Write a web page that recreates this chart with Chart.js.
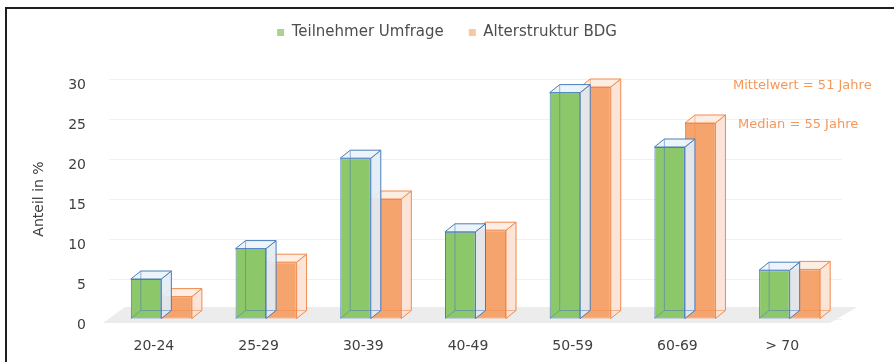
<!DOCTYPE html>
<html>
<head>
<meta charset="utf-8">
<script src="https://cdn.jsdelivr.net/npm/chart.js@4.4.1/dist/chart.umd.min.js"></script>
<style>
  html, body { margin: 0; padding: 0; background: #ffffff; }
  #wrap { width: 894px; height: 362px; position: relative; }
</style>
</head>
<body>
<div id="wrap"><canvas id="c" width="894" height="362"></canvas></div>
<script>
// ---- data ----
const categories = ['20-24', '25-29', '30-39', '40-49', '50-59', '60-69', '> 70'];
const teilnehmerUmfrage = [5.0, 8.8, 20.1, 10.9, 28.3, 21.5, 6.1];
const altersstrukturBDG = [2.8, 7.1, 15.0, 11.1, 29.0, 24.5, 6.2];
const seriesNames = ['Teilnehmer Umfrage', 'Alterstruktur BDG'];
const yTicks = [0, 5, 10, 15, 20, 25, 30];
const annotations = ['Mittelwert = 51 Jahre', 'Median = 55 Jahre'];
const yTitle = 'Anteil in %';

const FONT = 'DejaVu Sans';
const DX = 10, DY = -8;
const styles3d = [
  { side: 'rgba(226,236,246,0.9)', top: 'rgba(236,243,250,0.95)', edge: '#4a7ebb', back: 'rgba(74,126,187,0.55)' },
  { side: 'rgba(252,226,212,0.9)', top: 'rgba(253,236,226,0.95)', edge: '#ef8a4c', back: 'rgba(239,138,76,0.55)' }
];

const framePlugin = {
  id: 'frame',
  beforeDraw(chart) {
    const ctx = chart.ctx;
    ctx.save();
    ctx.fillStyle = '#ffffff';
    ctx.fillRect(0, 0, chart.width, chart.height);
    ctx.strokeStyle = '#1e1e1e';
    ctx.lineWidth = 2;
    ctx.beginPath();
    ctx.moveTo(6, chart.height);
    ctx.lineTo(6, 8);
    ctx.lineTo(chart.width, 8);
    ctx.stroke();
    ctx.restore();
  }
};

const floorPlugin = {
  id: 'floor',
  beforeDatasetsDraw(chart) {
    const { ctx, chartArea } = chart;
    const base = chart.scales.y.getPixelForValue(0);
    ctx.save();
    ctx.fillStyle = '#ececec';
    ctx.beginPath();
    ctx.moveTo(chartArea.left - 6, base + 4);
    ctx.lineTo(chartArea.right - 12, base + 4);
    ctx.lineTo(chartArea.right + 15, base - 12);
    ctx.lineTo(chartArea.left + 16, base - 12);
    ctx.closePath();
    ctx.fill();
    ctx.restore();
  }
};

const bar3dPlugin = {
  id: 'bar3d',
  afterDatasetDraw(chart, args) {
    const ctx = chart.ctx;
    const st = styles3d[args.index];
    ctx.save();
    ctx.lineWidth = 1;
    args.meta.data.forEach(bar => {
      const p = bar.getProps(['x', 'y', 'base', 'width'], true);
      const l = p.x - p.width / 2, r = p.x + p.width / 2;
      const t = p.y, b = p.base;
      // side face
      ctx.beginPath();
      ctx.moveTo(r, t); ctx.lineTo(r + DX, t + DY); ctx.lineTo(r + DX, b + DY); ctx.lineTo(r, b); ctx.closePath();
      ctx.fillStyle = st.side; ctx.fill();
      ctx.strokeStyle = st.edge; ctx.stroke();
      // top face
      ctx.beginPath();
      ctx.moveTo(l, t); ctx.lineTo(l + DX, t + DY); ctx.lineTo(r + DX, t + DY); ctx.lineTo(r, t); ctx.closePath();
      ctx.fillStyle = st.top; ctx.fill();
      ctx.strokeStyle = st.edge; ctx.stroke();
      // hidden back edges seen through
      ctx.strokeStyle = st.back;
      ctx.beginPath();
      ctx.moveTo(l + DX, t + DY); ctx.lineTo(l + DX, b + DY); ctx.lineTo(r + DX, b + DY);
      ctx.moveTo(l, b); ctx.lineTo(l + DX, b + DY);
      ctx.stroke();
    });
    ctx.restore();
  }
};

const notePlugin = {
  id: 'notes',
  afterDraw(chart) {
    const { ctx, chartArea } = chart;
    ctx.save();
    ctx.fillStyle = '#f2985c';
    ctx.font = '13px "' + FONT + '"';
    ctx.textBaseline = 'middle';
    ctx.textAlign = 'left';
    ctx.fillText(annotations[0], chartArea.right - 109, chartArea.top + 7);
    ctx.fillText(annotations[1], chartArea.right - 104, chartArea.top + 46);
    ctx.restore();
  }
};

const legendColors = ['#a9d38f', '#f8c79f'];

new Chart(document.getElementById('c'), {
  type: 'bar',
  data: {
    labels: categories,
    datasets: [
      {
        label: seriesNames[0],
        data: teilnehmerUmfrage,
        backgroundColor: '#8cc76a',
        borderColor: '#4a7ebb',
        borderWidth: 1,
        borderSkipped: false,
        categoryPercentage: 0.583,
        barPercentage: 1.0
      },
      {
        label: seriesNames[1],
        data: altersstrukturBDG,
        backgroundColor: '#f6a46e',
        borderColor: '#ef8a4c',
        borderWidth: 1,
        borderSkipped: false,
        categoryPercentage: 0.583,
        barPercentage: 1.0
      }
    ]
  },
  options: {
    responsive: false,
    animation: false,
    devicePixelRatio: 1,
    layout: { padding: { top: 0, left: 0, right: 0, bottom: 0 } },
    plugins: {
      legend: {
        display: true,
        position: 'top',
        labels: {
          boxWidth: 7,
          boxHeight: 7,
          padding: 25,
          color: '#4d4d4d',
          font: { family: FONT, size: 15 },
          generateLabels(chart) {
            return chart.data.datasets.map((ds, i) => ({
              text: ds.label,
              fillStyle: legendColors[i],
              strokeStyle: legendColors[i],
              lineWidth: 0,
              fontColor: '#4d4d4d',
              hidden: false,
              datasetIndex: i
            }));
          }
        }
      },
      tooltip: { enabled: false },
      title: { display: false }
    },
    scales: {
      x: {
        type: 'category',
        position: 'bottom',
        grid: { display: false, drawTicks: false, tickLength: 0 },
        border: { display: false },
        ticks: {
          color: '#404040',
          font: { family: FONT, size: 14 },
          padding: 19,
          labelOffset: -7.5,
          maxRotation: 0
        },
        afterFit(scale) { scale.height = 43; }
      },
      xTop: {
        type: 'linear',
        position: 'top',
        display: true,
        grid: { display: false, drawTicks: false },
        border: { display: false },
        ticks: { display: false },
        afterFit(scale) { scale.height = 29; }
      },
      y: {
        type: 'linear',
        position: 'left',
        min: 0,
        max: 30,
        afterBuildTicks(scale) { scale.ticks = yTicks.map(v => ({ value: v })); },
        grid: { color: '#f1f1f1', drawTicks: false, lineWidth: 1 },
        border: { display: false },
        ticks: {
          color: '#404040',
          font: { family: FONT, size: 14 },
          padding: 23,
          labelOffset: 6
        },
        title: {
          display: true,
          text: yTitle,
          color: '#404040',
          font: { family: FONT, size: 14 },
          padding: { top: 31, bottom: 0 }
        },
        afterFit(scale) { scale.width = 109; }
      },
      yRight: {
        type: 'linear',
        position: 'right',
        display: true,
        grid: { display: false, drawTicks: false },
        border: { display: false },
        ticks: { display: false },
        afterFit(scale) { scale.width = 52; }
      }
    }
  },
  plugins: [framePlugin, floorPlugin, bar3dPlugin, notePlugin]
});
</script>
</body>
</html>
